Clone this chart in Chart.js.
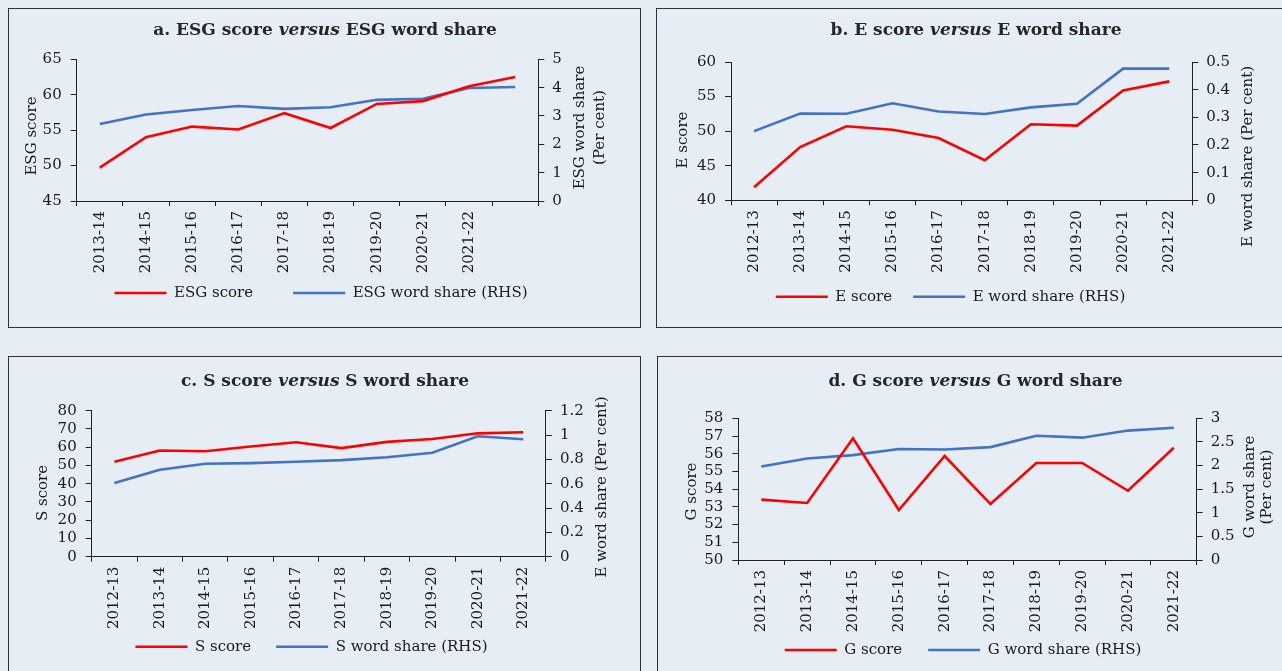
<!DOCTYPE html>
<html>
<head>
<meta charset="utf-8">
<script src="https://cdn.jsdelivr.net/npm/chart.js@4.4.0/dist/chart.umd.min.js"></script>
<style>
  html, body {
    margin: 0;
    padding: 0;
    width: 1282px;
    height: 671px;
    overflow: hidden;
    background: #e6edf4;
  }
  .panel {
    position: absolute;
    box-sizing: border-box;
    border: 1px solid #333;
  }
  .panel canvas {
    position: absolute;
    left: 0;
    top: 0;
  }
  .ptitle {
    position: absolute;
    width: 640px;
    height: 22px;
    line-height: 22px;
    text-align: center;
    font: bold 17px "DejaVu Serif", serif;
    color: #262626;
    white-space: nowrap;
  }
</style>
</head>
<body>
<script>
// categories
var yearsA = ["2013-14", "2014-15", "2015-16", "2016-17", "2017-18", "2018-19", "2019-20", "2020-21", "2021-22", ""];
var years = ["2012-13", "2013-14", "2014-15", "2015-16", "2016-17", "2017-18", "2018-19", "2019-20", "2020-21", "2021-22"];

// a. ESG
var esgScore = [49.7, 54.0, 55.5, 55.1, 57.4, 55.3, 58.7, 59.1, 61.2, 62.5];
var esgShare = [2.72, 3.05, 3.21, 3.35, 3.25, 3.31, 3.57, 3.61, 3.99, 4.02];
// b. E
var eScore = [41.9, 47.7, 50.7, 50.2, 49.0, 45.8, 51.0, 50.8, 55.9, 57.2];
var eShare = [0.25, 0.314, 0.313, 0.351, 0.321, 0.312, 0.336, 0.349, 0.476, 0.476];
// c. S
var sScore = [52.0, 58.2, 57.8, 60.4, 62.7, 59.5, 62.9, 64.5, 67.6, 68.2];
var sShare = [0.605, 0.714, 0.764, 0.769, 0.780, 0.794, 0.818, 0.854, 0.990, 0.965];
// d. G
var gScore = [53.41, 53.22, 56.87, 52.82, 55.87, 53.16, 55.48, 55.48, 53.91, 56.34];
var gShare = [1.98, 2.15, 2.22, 2.35, 2.34, 2.39, 2.63, 2.59, 2.74, 2.80];

var FONT = '"DejaVu Serif", serif';
var TXT = "#1a1a1a";

// draws the rotated axis titles (read bottom to top on both sides)
var sideTitles = {
  id: "sideTitles",
  afterDraw: function (chart, args, opts) {
    var ctx = chart.ctx;
    ctx.save();
    ctx.font = "15px " + FONT;
    ctx.fillStyle = TXT;
    ctx.textAlign = "center";
    ctx.textBaseline = "middle";
    opts.items.forEach(function (t) {
      ctx.save();
      ctx.translate(t.x, t.y);
      ctx.rotate(-Math.PI / 2);
      ctx.fillText(t.text, 0, 0);
      ctx.restore();
    });
    ctx.restore();
  },
};

var panels = [
  {
    box: [8, 8, 633, 320],
    title: "a. ESG score <i>versus</i> ESG word share",
    titleX: 325, titleY: 30,
    labels: yearsA, score: esgScore, share: esgShare,
    scoreName: "ESG score", shareName: "ESG word share (RHS)",
    left: [45, 65, 5], right: [0, 5, 1],
    area: { l: 76.7, r: 538.3, t: 59.3, b: 201 },
    legendY: 293, legendCx: 321, legendGap: 40,
    side: [
      { text: "ESG score", x: 31.7, y: 136 },
      { text: "ESG word share", x: 580, y: 127.5 },
      { text: "(Per cent)", x: 600, y: 127.5 },
    ],
  },
  {
    box: [656, 8, 640, 320],
    title: "b. E score <i>versus</i> E word share",
    titleX: 976, titleY: 30,
    labels: years, score: eScore, share: eShare,
    scoreName: "E score", shareName: "E word share (RHS)",
    left: [40, 60, 5], right: [0, 0.5, 0.1],
    area: { l: 731, r: 1192.3, t: 62, b: 200.3 },
    legendY: 296.7, legendCx: 950.5, legendGap: 21,
    side: [
      { text: "E score", x: 683.3, y: 140 },
      { text: "E word share (Per cent)", x: 1248, y: 156.5 },
    ],
  },
  {
    box: [8, 356, 633, 320],
    title: "c. S score <i>versus</i> S word share",
    titleX: 325, titleY: 380.7,
    labels: years, score: sScore, share: sShare,
    scoreName: "S score", shareName: "S word share (RHS)",
    left: [0, 80, 10], right: [0, 1.2, 0.2],
    area: { l: 91.7, r: 545.9, t: 410.7, b: 556.7 },
    legendY: 646.7, legendCx: 311.5, legendGap: 25,
    side: [
      { text: "S score", x: 43.3, y: 493 },
      { text: "E word share (Per cent)", x: 602.6, y: 487 },
    ],
  },
  {
    box: [657, 356, 640, 320],
    title: "d. G score <i>versus</i> G word share",
    titleX: 975.5, titleY: 380.7,
    labels: years, score: gScore, share: gShare,
    scoreName: "G score", shareName: "G word share (RHS)",
    left: [50, 58, 1], right: [0, 3, 0.5],
    area: { l: 738.4, r: 1196.7, t: 418.3, b: 560 },
    legendY: 650, legendCx: 963, legendGap: 26,
    side: [
      { text: "G score", x: 691.7, y: 491.5 },
      { text: "G word share", x: 1250, y: 487 },
      { text: "(Per cent)", x: 1267, y: 487 },
    ],
  },
];

function plainNum(v) {
  return String(+v.toFixed(3));
}

function makePanel(p) {
  var div = document.createElement("div");
  div.className = "panel";
  div.style.left = p.box[0] + "px";
  div.style.top = p.box[1] + "px";
  div.style.width = p.box[2] + "px";
  div.style.height = p.box[3] + "px";
  document.body.appendChild(div);

  var cx = p.box[0] + 1;
  var cy = p.box[1] + 1;
  var W = p.box[2] - 2;
  var H = p.box[3] - 2;
  var canvas = document.createElement("canvas");
  canvas.width = W;
  canvas.height = H;
  canvas.style.width = W + "px";
  canvas.style.height = H + "px";
  div.appendChild(canvas);

  var t = document.createElement("div");
  t.className = "ptitle";
  t.innerHTML = p.title;
  t.style.left = p.titleX - 320 + "px";
  t.style.top = p.titleY - 11 + "px";
  document.body.appendChild(t);

  // layout numbers, relative to the canvas
  var T = p.area.t - cy;
  var B = p.area.b - cy;
  var L = p.area.l - cx;
  var R = p.area.r - cx;
  var pb = H - (p.legendY - cy) - 17.5;
  var legendTop = H - pb - (25 + p.legendGap);
  var xH = legendTop - B;
  var c = p.legendCx - cx;
  var pl = 0;
  var pr = W - 2 * c;
  if (pr < 0) {
    pl = -pr;
    pr = 0;
  }
  var leftW = L - pl;
  var rightW = W - pr - R;

  var side = p.side.map(function (s) {
    return { text: s.text, x: s.x - cx, y: s.y - cy };
  });

  new Chart(canvas, {
    type: "line",
    data: {
      labels: p.labels,
      datasets: [
        {
          label: p.scoreName,
          data: p.score,
          borderColor: "#ff0000",
          backgroundColor: "#ff0000",
          borderWidth: 2.6,
          pointRadius: 0,
          tension: 0,
          yAxisID: "y",
        },
        {
          label: p.shareName,
          data: p.share,
          borderColor: "#4472c4",
          backgroundColor: "#4472c4",
          borderWidth: 2.6,
          pointRadius: 0,
          tension: 0,
          yAxisID: "y1",
        },
      ],
    },
    options: {
      responsive: false,
      animation: false,
      events: [],
      layout: { padding: { top: T, left: pl, right: pr, bottom: pb } },
      scales: {
        x: {
          offset: true,
          grid: { offset: true, drawOnChartArea: false, tickLength: 5, color: "#222" },
          border: { color: "#222", width: 1 },
          ticks: {
            autoSkip: false,
            minRotation: 90,
            maxRotation: 90,
            padding: 5,
            color: TXT,
            font: { family: FONT, size: 15 },
          },
          afterFit: function (s) {
            s.height = xH;
            // labels run past the fixed axis box, don't clip them
            s._computeLabelArea = function () {
              return undefined;
            };
          },
        },
        y: {
          position: "left",
          min: p.left[0],
          max: p.left[1],
          grid: { drawOnChartArea: false, tickLength: 6, color: "#222" },
          border: { color: "#222", width: 1 },
          ticks: {
            stepSize: p.left[2],
            autoSkip: false,
            padding: 9,
            color: TXT,
            font: { family: FONT, size: 15 },
            callback: plainNum,
          },
          afterFit: function (s) {
            s.width = leftW;
          },
        },
        y1: {
          position: "right",
          min: p.right[0],
          max: p.right[1],
          grid: { drawOnChartArea: false, tickLength: 6, color: "#222" },
          border: { color: "#222", width: 1 },
          ticks: {
            stepSize: p.right[2],
            autoSkip: false,
            padding: 8,
            color: TXT,
            font: { family: FONT, size: 15 },
            callback: plainNum,
          },
          afterFit: function (s) {
            s.width = rightW;
          },
        },
      },
      plugins: {
        tooltip: { enabled: false },
        legend: {
          position: "bottom",
          labels: {
            usePointStyle: true,
            pointStyle: "line",
            pointStyleWidth: 52,
            padding: p.legendGap,
            color: TXT,
            font: { family: FONT, size: 15 },
          },
        },
        sideTitles: { items: side },
      },
    },
    plugins: [sideTitles],
  });
}

panels.forEach(makePanel);
</script>
</body>
</html>
